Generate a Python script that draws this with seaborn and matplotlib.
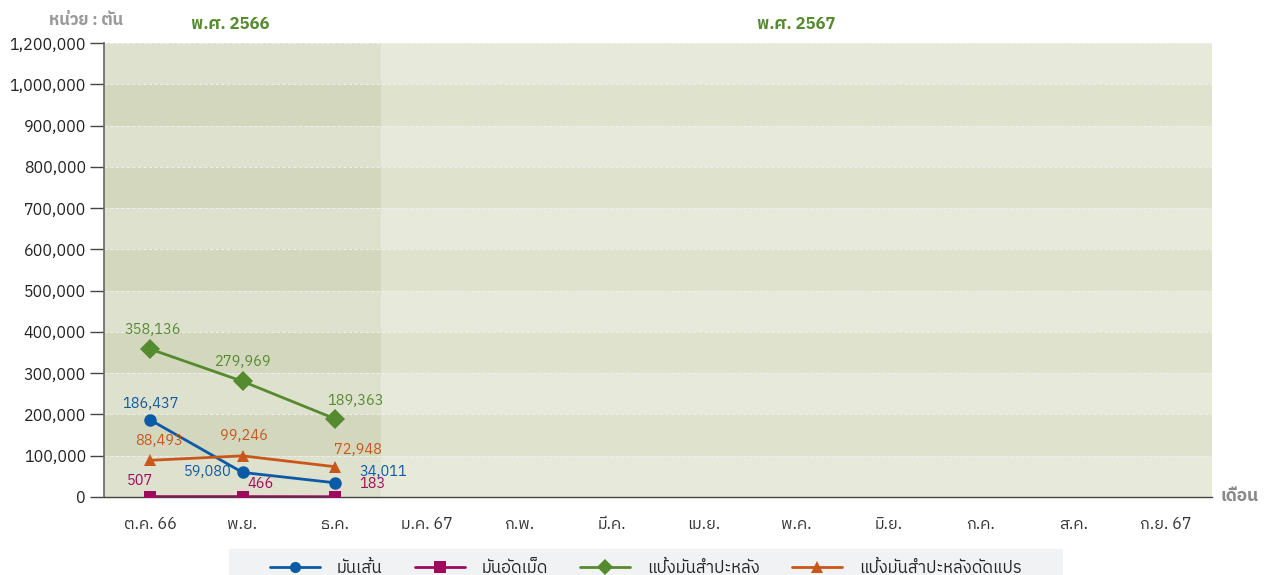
import matplotlib
matplotlib.use("Agg")
import matplotlib.pyplot as plt
from matplotlib import font_manager
from matplotlib.ft2font import FT2Font
from matplotlib.lines import Line2D
from matplotlib.patches import Rectangle
import seaborn as sns
import pandas as pd

# Data (tons per month)
months = ["ต.ค. 66", "พ.ย.", "ธ.ค.", "ม.ค. 67", "ก.พ.", "มี.ค.", "เม.ย.",
          "พ.ค.", "มิ.ย.", "ก.ค.", "ส.ค.", "ก.ย. 67"]
series_names = ["มันเส้น", "มันอัดเม็ด", "แป้งมันสำปะหลัง", "แป้งมันสำปะหลังดัดแปร"]
cassava_chips = [186437, 59080, 34011]
cassava_pellets = [507, 466, 183]
native_starch = [358136, 279969, 189363]
modified_starch = [88493, 99246, 72948]
year_labels = ["พ.ศ. 2566", "พ.ศ. 2567"]
year_spans = [(0, 3), (3, 12)]
# the source axis is evenly spaced, but its top tick reads 1,200,000
y_ticks = [0, 100000, 200000, 300000, 400000, 500000, 600000, 700000,
           800000, 900000, 1000000, 1100000]
y_tick_labels = ["0", "100,000", "200,000", "300,000", "400,000", "500,000", "600,000",
                 "700,000", "800,000", "900,000", "1,000,000", "1,200,000"]


def find_thai_font():
    # look through installed fonts for one that covers Thai glyphs
    found = []
    for path in font_manager.findSystemFonts():
        try:
            cmap = FT2Font(path).get_charmap()
        except Exception:
            continue
        if 0x0E01 in cmap and 0x0E33 in cmap:
            found.append(path)
    if not found:
        return None
    found.sort(key=lambda p: (("Bold" in p) or ("Italic" in p) or ("Oblique" in p), "Thai" not in p, p))
    for p in found:
        font_manager.fontManager.addfont(p)
    return font_manager.FontProperties(fname=found[0]).get_name()


sns.set_theme(style="white")
thai = find_thai_font()
families = ([thai] if thai else []) + ["DejaVu Sans"]
plt.rcParams["font.family"] = families

colors = ["#0b5aa6", "#9e0a5c", "#558b2f", "#c9561b"]
markers = ["o", "s", "D", "^"]
values = [cassava_chips, cassava_pellets, native_starch, modified_starch]

rows = []
for name, vals in zip(series_names, values):
    for xi, v in enumerate(vals):
        rows.append({"month": xi, "series": name, "value": v})
df = pd.DataFrame(rows)

fig = plt.figure(figsize=(12.69, 5.75), dpi=100)
ax = fig.add_axes([0.082, 0.136, 0.873, 0.789])

# background bands, one per 100,000 step
band_edges = y_ticks
shades = {0: ("#dee1cd", "#d3d7bd"), 1: ("#e7eadb", "#dfe2cd")}
for yi, (a, b) in enumerate(year_spans):
    for i in range(len(band_edges) - 1):
        col = shades[yi][i % 2]
        ax.fill_between([a - 0.5, b - 0.5], band_edges[i], band_edges[i + 1],
                        color=col, linewidth=0, zorder=0)
for y in band_edges[1:]:
    ax.axhline(y, color="#eeeeee", lw=0.8, ls=(0, (3, 2)), zorder=0.5)

for name, col, mk in zip(series_names, colors, markers):
    sub = df[df["series"] == name]
    ms = 10 if mk == "D" else 9
    sns.lineplot(data=sub, x="month", y="value", ax=ax, color=col, marker=mk,
                 markersize=ms, markeredgewidth=0, linewidth=2, zorder=3,
                 legend=False)

# value labels, offsets in points for each point
offsets = {
    0: [(0, 11.5), (-25, 0), (35, 8)],
    1: [(-7, 11.5), (13, 9.4), (27, 9.4)],
    2: [(1.5, 13.7), (0.7, 13.7), (15, 13)],
    3: [(6, 13.7), (0.7, 14.4), (16.5, 12.2)],
}
for si, (vals, col) in enumerate(zip(values, colors)):
    for xi, v in enumerate(vals):
        dx, dy = offsets[si][xi]
        ax.annotate(f"{v:,}", (xi, v), xytext=(dx, dy), textcoords="offset points",
                    ha="center", va="center", color=col, fontsize=10.5, zorder=4)

ax.set_xlim(-0.5, 11.5)
ax.set_ylim(0, 1100000)
ax.set_yticks(y_ticks)
ax.set_yticklabels(y_tick_labels)
ax.set_xticks(range(12))
ax.set_xticklabels(months)
ax.set_xticks([i - 0.5 for i in range(13)], minor=True)
ax.tick_params(axis="x", which="major", length=0, pad=14, labelsize=11.5, colors="#333333")
ax.tick_params(axis="x", which="minor", length=14, width=1, color="#444444", direction="out")
ax.tick_params(axis="y", length=10, width=1, color="#444444", direction="out", labelsize=11.5,
               labelcolor="#222222", left=True, pad=3)
ax.set_xlabel("")
ax.set_ylabel("")
for s in ["top", "right"]:
    ax.spines[s].set_visible(False)
ax.spines["left"].set_color("#666666")
ax.spines["bottom"].set_color("#444444")
ax.spines["left"].set_linewidth(1.2)
ax.spines["bottom"].set_linewidth(1)

# texts around the plot
fig.text(0.068, 0.965, "หน่วย : ตัน", color="#999999", fontsize=12, fontweight="bold",
         ha="center", va="center")
year_shift = [-0.13, 0.0]
for lab, (a, b), sh in zip(year_labels, year_spans, year_shift):
    xc = (a + b - 1) / 2 + sh
    ax.text(xc, 1.04, lab, transform=ax.get_xaxis_transform(), color="#558b2f",
            fontsize=12, fontweight="bold", ha="center", va="center")
ax.text(1.008, 0.0, "เดือน", transform=ax.transAxes, color="#888888", fontsize=12.5,
        fontweight="bold", ha="left", va="center")

# legend on a light grey strip at the bottom
fig.patches.append(Rectangle((229 / 1269, 0), 834 / 1269, 26 / 575, transform=fig.transFigure,
                             facecolor="#f1f2f4", edgecolor="none", zorder=0))
handles = [Line2D([0], [0], color=c, marker=m, markersize=8, markeredgewidth=0, lw=2)
           for c, m in zip(colors, markers)]
leg = fig.legend(handles, series_names, loc="center", ncol=4,
                 bbox_to_anchor=(0.509, 0.012), frameon=False, fontsize=12,
                 handlelength=3.0, handletextpad=1.0, columnspacing=1.95)

fig.savefig("out.png", dpi=100)
